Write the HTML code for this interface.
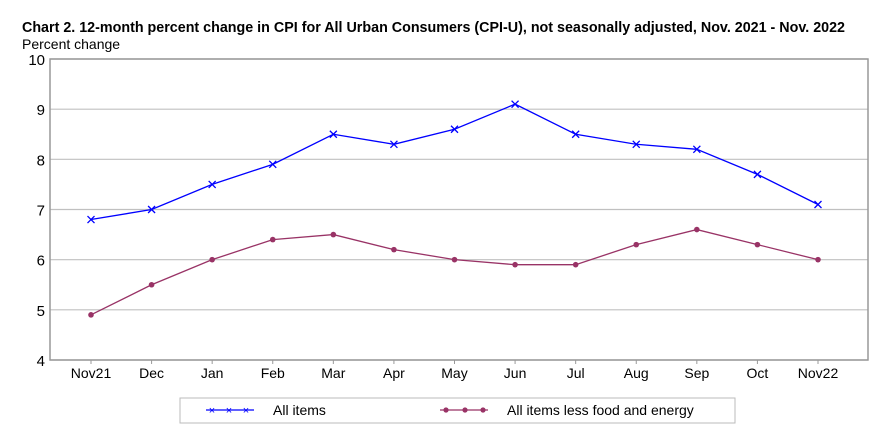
<!DOCTYPE html>
<html><head><meta charset="utf-8"><style>
body{margin:0;background:#fff;font-family:"Liberation Sans",Arial,sans-serif;}
svg text{font-family:"Liberation Sans",Arial,sans-serif;}
</style></head><body>
<svg id="chart" width="892" height="440" xmlns="http://www.w3.org/2000/svg">
<text x="22" y="32" font-size="14.3" font-weight="bold" fill="#000" textLength="823">Chart 2. 12-month percent change in CPI for All Urban Consumers (CPI-U), not seasonally adjusted, Nov. 2021 - Nov. 2022</text>
<text x="22" y="49" font-size="14" fill="#000">Percent change</text>
<g id="grid"></g><g id="series"></g>
<rect x="180" y="398" width="555" height="25" fill="#fff" stroke="#bbb"/>
<g>
<line x1="206" y1="410" x2="254" y2="410" stroke="#0000ff" stroke-width="1.3"/>
<text x="212" y="414" font-size="11" fill="#0000ff" text-anchor="middle">×</text>
<text x="229" y="414" font-size="11" fill="#0000ff" text-anchor="middle">×</text>
<text x="246" y="414" font-size="11" fill="#0000ff" text-anchor="middle">×</text>
<text x="273" y="415" font-size="14">All items</text></g>
<g>
<line x1="440" y1="410" x2="488" y2="410" stroke="#993366" stroke-width="1.3"/>
<circle cx="446" cy="410" r="2.6" fill="#993366"/><circle cx="465" cy="410" r="2.6" fill="#993366"/><circle cx="483" cy="410" r="2.6" fill="#993366"/>
<text x="507" y="415" font-size="14">All items less food and energy</text></g>
</svg>
<script>
const categories=["Nov21","Dec","Jan","Feb","Mar","Apr","May","Jun","Jul","Aug","Sep","Oct","Nov22"];
const allItems=[6.8,7.0,7.5,7.9,8.5,8.3,8.6,9.1,8.5,8.3,8.2,7.7,7.1];
const coreItems=[4.9,5.5,6.0,6.4,6.5,6.2,6.0,5.9,5.9,6.3,6.6,6.3,6.0];
const yTicks=[4,5,6,7,8,9,10];
const NS="http://www.w3.org/2000/svg";
const L=50,R=868,T=59,B=360;
const X0=91,X1=818;
const x=i=>X0+(X1-X0)/(categories.length-1)*i;
const y=v=>B-(v-4)/6*(B-T);
function mk(tag,a,parent){const e=document.createElementNS(NS,tag);for(const k in a)e.setAttribute(k,a[k]);parent.appendChild(e);return e;}
const g=document.getElementById('grid'),s=document.getElementById('series');
yTicks.forEach(t=>{
 const ln=mk('line',{x1:L,x2:R,y1:y(t),y2:y(t),stroke:'#c0c0c0','stroke-width':1.2},g);
 
 
 const tx=mk('text',{x:L-5,y:y(t)+6,'font-size':15,'text-anchor':'end'},g);tx.textContent=t;
 
 
});
const fr=mk('rect',{x:L,y:T,width:R-L,height:B-T,fill:'none',stroke:'#999','stroke-width':1.5},g);


categories.forEach((c,i)=>{
 mk('line',{x1:x(i),x2:x(i),y1:B,y2:B+4,stroke:'#999'},g);
 const tx=mk('text',{x:x(i),y:B+18,'font-size':14,'text-anchor':'middle'},g);tx.textContent=c;
 
 
});
const p1=mk('polyline',{points:allItems.map((v,i)=>x(i)+','+y(v)).join(' '),fill:'none',stroke:'#0000ff','stroke-width':1.3},s);


allItems.forEach((v,i)=>{
 const m=mk('path',{d:`M${x(i)-3.5},${y(v)-3.5}L${x(i)+3.5},${y(v)+3.5}M${x(i)-3.5},${y(v)+3.5}L${x(i)+3.5},${y(v)-3.5}`,stroke:'#0000ff','stroke-width':1.3},s);
 
 
});
const p2=mk('polyline',{points:coreItems.map((v,i)=>x(i)+','+y(v)).join(' '),fill:'none',stroke:'#993366','stroke-width':1.3},s);


coreItems.forEach((v,i)=>{
 const m=mk('circle',{cx:x(i),cy:y(v),r:2.8,fill:'#993366'},s);
 
 
});
</script>
</body></html>
